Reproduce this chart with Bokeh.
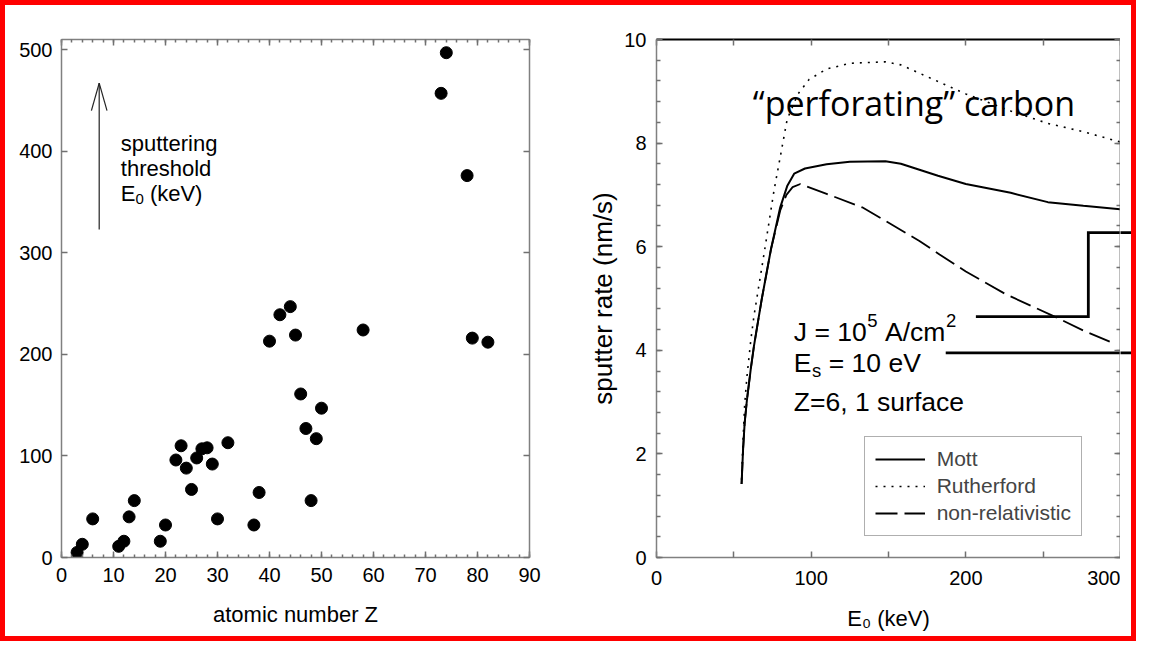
from bokeh.plotting import figure
from bokeh.models import (LinearAxis, SingleIntervalTicker, FixedTicker, Label, Legend,
                          LegendItem, Range1d)
from bokeh.layouts import row
from bokeh.embed import file_html
from bokeh.resources import INLINE

# ---------------- left panel data ----------------
atomic_number = [3, 4, 6, 11, 12, 13, 14, 19, 20, 22, 23, 24, 25, 26, 27, 28, 29, 30, 32,
                 37, 38, 40, 42, 44, 45, 46, 47, 48, 49, 50, 58, 73, 74, 78, 79, 82]
threshold_keV = [5, 13, 38, 11, 16, 40, 56, 16, 32, 96, 110, 88, 67, 98, 107, 108, 92, 38, 113,
                 32, 64, 213, 239, 247, 219, 161, 127, 56, 117, 147, 224, 457, 497, 376, 216, 212]
left_x_range = (0, 90)
left_y_range = (0, 510)

# annotation (arrow + text) of the left panel, data units
arrow_x = 7.25
arrow_y = (323, 467)
arrow_head = (1.5, 27)
note_x = 11.4
note_y = [407.5, 383.2, 358.8]

# ---------------- right panel data ----------------
mott_E = [55, 56, 57, 58.5, 61, 63, 68, 74, 80, 84.5, 89, 96, 110, 125, 148, 158, 182, 200,
          229, 253, 276, 300]
mott_rate = [1.42, 2.1, 2.6, 3.05, 3.65, 4.08, 4.98, 5.95, 6.76, 7.17, 7.41, 7.51, 7.59, 7.64,
             7.65, 7.60, 7.37, 7.21, 7.04, 6.86, 6.79, 6.72]
ruth_E = [55, 56, 57, 58.5, 61, 63, 70, 76, 80, 84.5, 91.5, 98.7, 110, 125, 148, 158, 182, 200,
          229, 253, 276, 300]
ruth_rate = [1.5, 2.3, 2.95, 3.5, 4.2, 4.66, 5.95, 7.09, 7.73, 8.46, 8.95, 9.23, 9.43, 9.54,
             9.57, 9.51, 9.19, 8.95, 8.62, 8.38, 8.22, 8.02]
nonrel_E = [55, 56, 57, 58.5, 61, 63, 68, 74, 80, 84, 88, 93, 110, 133, 148, 170, 183, 200,
            226, 256, 276, 296]
nonrel_rate = [1.42, 2.1, 2.6, 3.05, 3.65, 4.08, 4.98, 5.95, 6.7, 7.0, 7.15, 7.21, 7.02, 6.76,
               6.5, 6.11, 5.85, 5.52, 5.08, 4.67, 4.38, 4.13]
right_x_range = (0, 300)
right_y_range = (0, 10)
right_x_major = [0, 100, 200, 300]
right_x_minor = [50, 150, 250]

# leader lines of the parameter notes (data units, they run out past the frame)
j_line_x = [206.5, 279.2, 279.2, 330]
j_line_y = [4.65, 4.65, 6.27, 6.27]
es_line_x = [187, 330]
es_line_y = [3.95, 3.95]
param_x = 88.8
param_y = [4.36, 3.75, 3.01]
title_pos = (62.3, 8.78)

FONT = "Liberation Sans"
AXIS = "#808080"
TICK = "#707070"

H = 631
TOP1, TOP2, BOTTOM = 28, 34, 79
W1, W2, W3 = 570, 545, 11
FRAME2_W = 462.5


def add_axis(p, side, ticker, labels=True, line_color=AXIS, line_width=1.5,
             major_in=6, minor_in=3, minor=True, standoff=10):
    ax = LinearAxis(ticker=ticker)
    ax.axis_line_color = line_color
    ax.axis_line_width = line_width
    ax.major_tick_line_color = TICK
    ax.major_tick_line_width = 1.5
    ax.major_tick_in = major_in
    ax.major_tick_out = 0
    ax.minor_tick_line_color = TICK if minor else None
    ax.minor_tick_line_width = 1.5
    ax.minor_tick_in = minor_in
    ax.minor_tick_out = 0
    ax.major_label_text_font = FONT
    if labels:
        ax.major_label_text_font_size = "20px"
        ax.major_label_text_color = "black"
        ax.major_label_standoff = standoff
    else:
        ax.major_label_text_font_size = "1px"
        ax.major_label_text_color = None
        ax.major_label_standoff = 0
    ax.axis_label_text_font = FONT
    ax.axis_label_text_font_style = "normal"
    ax.axis_label_text_color = "black"
    p.add_layout(ax, side)
    return ax


# ================= left panel =================
p1 = figure(width=W1, height=H, x_range=Range1d(*left_x_range), y_range=Range1d(*left_y_range),
            output_backend="svg", toolbar_location=None, x_axis_type=None, y_axis_type=None,
            min_border_left=56, min_border_right=46, min_border_top=TOP1, min_border_bottom=BOTTOM)
p1.outline_line_color = None

xt1 = SingleIntervalTicker(interval=10, num_minor_ticks=5)
yt1 = SingleIntervalTicker(interval=100, num_minor_ticks=0)
bx = add_axis(p1, "below", xt1, standoff=10)
bx.axis_label = "atomic number Z"
bx.axis_label_text_font_size = "22px"
bx.axis_label_standoff = 17
add_axis(p1, "above", xt1, labels=False)
add_axis(p1, "left", yt1, minor=False, standoff=9)
add_axis(p1, "right", yt1, labels=False, minor=False)

p1.scatter(atomic_number, threshold_keV, size=12, marker="circle",
           fill_color="black", line_color="black")

# arrow
p1.segment(x0=[arrow_x, arrow_x - arrow_head[0], arrow_x + arrow_head[0]],
           y0=[arrow_y[0], arrow_y[1] - arrow_head[1], arrow_y[1] - arrow_head[1]],
           x1=[arrow_x, arrow_x, arrow_x], y1=[arrow_y[1], arrow_y[1], arrow_y[1]],
           line_color="#222222", line_width=1.2)

for txt, yy in zip(["sputtering", "threshold"], note_y[:2]):
    p1.add_layout(Label(x=note_x, y=yy, text=txt, text_font=FONT, text_font_size="22px",
                        text_baseline="alphabetic", text_color="black"))
for txt, dx, dy, fs in [("E", 0, 0, "22px"), ("0", 14.7, -6, "15px"), ("(keV)", 29.1, 0, "22px")]:
    p1.add_layout(Label(x=note_x, y=note_y[2], x_offset=dx, y_offset=dy, text=txt,
                        text_font=FONT, text_font_size=fs, text_baseline="alphabetic",
                        text_color="black"))

# ================= right panel =================
p2 = figure(width=W2, height=H, x_range=Range1d(*right_x_range), y_range=Range1d(*right_y_range),
            output_backend="svg", toolbar_location=None, x_axis_type=None, y_axis_type=None,
            min_border_left=81, min_border_right=0, min_border_top=TOP2, min_border_bottom=BOTTOM)
p2.outline_line_color = None

xt2 = FixedTicker(ticks=right_x_major, minor_ticks=right_x_minor)
yt2 = SingleIntervalTicker(interval=2, num_minor_ticks=5)
bx2 = add_axis(p2, "below", xt2, minor_in=6, standoff=13)
bx2.axis_label = "E\u2080 (keV)"
bx2.axis_label_text_font_size = "22px"
bx2.axis_label_standoff = 18
add_axis(p2, "above", xt2, labels=False, minor_in=6, line_color="black", line_width=2)
ly2 = add_axis(p2, "left", yt2, minor_in=4, standoff=10)
ly2.axis_label = "sputter rate (nm/s)"
ly2.axis_label_text_font_size = "26px"
ly2.axis_label_standoff = 3
add_axis(p2, "right", yt2, labels=False, minor_in=4, line_width=2)

r_mott = p2.line(mott_E, mott_rate, line_color="black", line_width=2)
r_ruth = p2.line(ruth_E, ruth_rate, line_color="black", line_width=1.6, line_dash="2 6")
r_nonrel = p2.line(nonrel_E, nonrel_rate, line_color="black", line_width=1.8, line_dash="22 7")

legend = Legend(items=[LegendItem(label="Mott", renderers=[r_mott]),
                       LegendItem(label="Rutherford", renderers=[r_ruth]),
                       LegendItem(label="non-relativistic", renderers=[r_nonrel])],
                location=(207.7, 21), margin=0, padding=10, spacing=3,
                glyph_width=50, glyph_height=20, label_standoff=12, label_height=20,
                label_text_font=FONT, label_text_font_size="21px",
                border_line_color="#606060", border_line_width=1.2,
                background_fill_color="white", background_fill_alpha=1)
p2.add_layout(legend)

p2.add_layout(Label(x=title_pos[0], y=title_pos[1], text="\u201cperforating\u201d carbon",
                    text_font="Open Sans", text_font_size="34px", text_baseline="alphabetic",
                    text_color="black"))

big = "26.5px"
small = "18.5px"
for txt, dx, dy, fs in [("J = 10", 0, 0, big), ("5", 73.5, 11, small),
                        ("A/cm", 91.2, 0, big), ("2", 152.1, 11, small)]:
    p2.add_layout(Label(x=param_x, y=param_y[0], x_offset=dx, y_offset=dy, text=txt,
                        text_font=FONT, text_font_size=fs, text_baseline="alphabetic",
                        text_color="black"))
for txt, dx, dy, fs in [("E", 0, 0, big), ("s", 18.2, -7, small), ("= 10 eV", 34.9, 0, big)]:
    p2.add_layout(Label(x=param_x, y=param_y[1], x_offset=dx, y_offset=dy, text=txt,
                        text_font=FONT, text_font_size=fs, text_baseline="alphabetic",
                        text_color="black"))
p2.add_layout(Label(x=param_x, y=param_y[2], text="Z=6, 1 surface", text_font=FONT,
                    text_font_size=big, text_baseline="alphabetic", text_color="black"))

for lx, lyy in [(j_line_x, j_line_y), (es_line_x, es_line_y)]:
    p2.line(lx, lyy, line_color="black", line_width=2.8, line_join="miter")

# ================= strip right of the frame: leader lines run on =================
px_per_keV = FRAME2_W / (right_x_range[1] - right_x_range[0])
x3_start = right_x_range[1] + 1.5 / px_per_keV
p3 = figure(width=W3, height=H, x_range=Range1d(x3_start, x3_start + W3 / px_per_keV),
            y_range=Range1d(*right_y_range), output_backend="svg", toolbar_location=None,
            x_axis_type=None, y_axis_type=None, min_border_left=0, min_border_right=0,
            min_border_top=TOP2, min_border_bottom=BOTTOM)
p3.outline_line_color = None
for lx, lyy in [(j_line_x, j_line_y), (es_line_x, es_line_y)]:
    p3.line(lx, lyy, line_color="black", line_width=2.8, line_join="miter")

layout = row(p1, p2, p3, styles={"border": "5px solid #ff0000"})

open("out.html", "w").write(file_html(layout, INLINE))
